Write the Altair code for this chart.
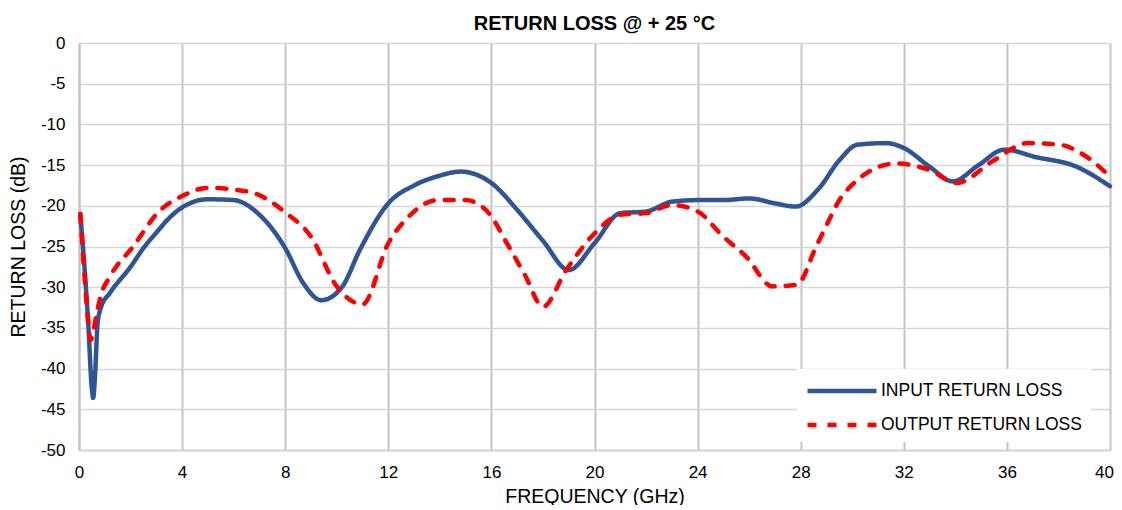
import altair as alt
import pandas as pd

# ---- data ----
in_freq = [0.05, 0.2, 0.35, 0.5, 0.55, 0.62, 0.72, 0.85, 1.2, 2.0, 2.5, 3.0, 3.5, 4.0, 5.0,
           6.0, 7.0, 8.0, 8.7, 9.4, 10.2, 10.9, 12.0, 13.0, 14.0, 14.8, 16.0, 17.0, 18.0,
           19.0, 20.0, 21.0, 22.0, 23.0, 24.0, 25.0, 26.0, 27.0, 27.8, 28.7, 29.5, 30.2,
           31.3, 32.0, 33.0, 33.9, 34.9, 35.9, 37.1, 38.7, 40.0]
in_db = [-21.0, -27.0, -34.0, -42.5, -43.6, -41.0, -34.5, -32.5, -30.7, -27.5, -25.2, -23.3,
         -21.5, -20.2, -19.2, -19.3, -21.1, -25.2, -29.5, -31.6, -30.0, -25.4, -19.7, -17.5,
         -16.3, -15.8, -17.2, -20.5, -24.3, -27.9, -24.6, -20.9, -20.7, -19.5, -19.3, -19.3,
         -19.1, -19.7, -20.1, -17.9, -14.4, -12.5, -12.3, -12.9, -15.2, -17.0, -15.0, -13.1,
         -14.0, -15.2, -17.6]

out_freq = [0.05, 0.2, 0.35, 0.45, 0.55, 0.7, 0.85, 1.2, 2.1, 3.1, 4.0, 5.0, 6.0, 7.0, 8.0,
            9.0, 10.0, 11.0, 12.0, 12.8, 13.9, 15.0, 15.9, 16.6, 17.3, 18.0, 18.9, 20.0,
            21.0, 22.0, 23.0, 24.0, 25.0, 25.9, 26.9, 27.85, 28.6, 29.0, 29.5, 30.0, 31.7,
            33.0, 34.05, 35.5, 36.8, 38.05, 39.1, 40.0]
out_db = [-21.0, -28.0, -34.0, -36.5, -35.5, -33.0, -31.0, -28.7, -25.0, -20.7, -18.8,
          -17.8, -18.0, -18.7, -20.8, -23.8, -29.9, -32.1, -24.6, -21.3, -19.3, -19.3, -20.9,
          -24.6, -28.5, -32.4, -27.9, -23.4, -21.1, -20.9, -19.9, -20.7, -23.8, -26.3, -29.9,
          -29.7, -25.0, -22.4, -19.3, -17.4, -14.8, -15.6, -17.2, -14.4, -12.3, -12.5, -14.0,
          -16.4]

series_names = ["INPUT RETURN LOSS", "OUTPUT RETURN LOSS"]
x_ticks = list(range(0, 41, 4))
y_ticks = list(range(-50, 1, 5))

df = pd.concat([
    pd.DataFrame({"f": in_freq, "db": in_db, "s": series_names[0], "o": range(len(in_freq))}),
    pd.DataFrame({"f": out_freq, "db": out_db, "s": series_names[1], "o": range(len(out_freq))}),
])

FONT = "Liberation Sans"

chart = alt.Chart(df).mark_line(
    interpolate="monotone", strokeWidth=4.5, strokeCap="round", strokeJoin="round"
).encode(
    x=alt.X("f:Q", scale=alt.Scale(domain=[0, 40], nice=False),
            axis=alt.Axis(values=x_ticks, title="FREQUENCY (GHz)", ticks=False,
                          labelPadding=14, titlePadding=7, grid=True, labelFlush=False,
                          labelExpr="'' + datum.value",
                          labelOffset={"condition": {"test": "datum.value == 40", "value": -6},
                                       "value": 0},
                          gridColor="#c3c3c3", gridWidth=2, domainColor="#d0d0d0",
                          domainWidth=1.5)),
    y=alt.Y("db:Q", scale=alt.Scale(domain=[-50, 0], nice=False),
            axis=alt.Axis(values=y_ticks, title="RETURN LOSS (dB)", ticks=False,
                          labelPadding=14, titlePadding=12, grid=True, labelFlush=False,
                          labelExpr="'' + datum.value",
                          gridColor="#d6d6d6", gridWidth=1.5, domainColor="#c3c3c3",
                          domainWidth=2)),
    color=alt.Color("s:N", scale=alt.Scale(domain=series_names, range=["#2F5597", "#FF0000"]),
                    legend=alt.Legend(title=None, orient="none", legendX=718, legendY=326,
                                      fillColor="white", padding=8,
                                      symbolType="M-1,0H5", symbolSize=529,
                                      symbolStrokeWidth=4.5, labelOffset=48, labelLimit=0,
                                      labelFontSize=17.5, labelFont=FONT, labelColor="black",
                                      rowPadding=11)),
    strokeDash=alt.StrokeDash("s:N", scale=alt.Scale(domain=series_names, range=[[1, 0], [9, 11]]),
                              legend=None),
    order="o:Q",
).properties(
    width=1031, height=407,
    title=alt.TitleParams("RETURN LOSS @ + 25 °C", font=FONT, fontSize=20, fontWeight="bold",
                          color="black", anchor="middle", offset=0),
    autosize=alt.AutoSizeParams(type="none"),
    padding={"left": 71, "top": 35, "right": 4, "bottom": 55},
).configure_axis(
    labelFont=FONT, labelFontSize=17, labelColor="black",
    titleFont=FONT, titleFontSize=19.5, titleFontWeight="normal", titleColor="black",
).configure_view(stroke=None)

chart.save("out.html", embed_options={"renderer": "svg", "actions": False})
